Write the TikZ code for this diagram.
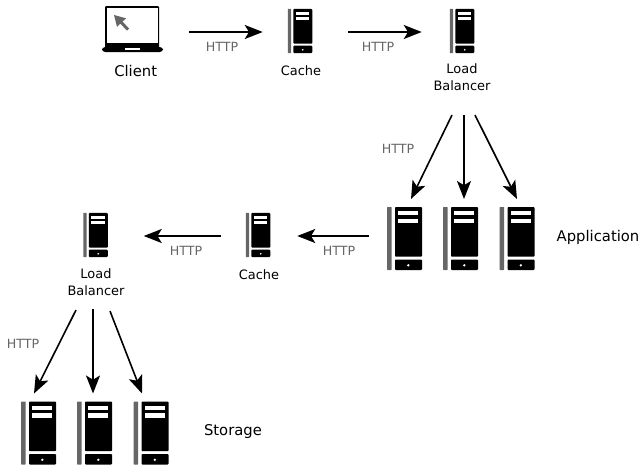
\documentclass[tikz,border=0pt]{standalone}
\usepackage{fontspec}
\setmainfont{DejaVu Sans}
\usetikzlibrary{arrows.meta}
\definecolor{icongray}{HTML}{666666}
\tikzset{
  server/.style={inner sep=0pt,outer sep=0pt,minimum width=#1*26.25pt,minimum height=#1*47.25pt},
  laptop/.style={inner sep=0pt,outer sep=0pt,minimum width=45.75pt,minimum height=34.5pt},
  pics/srvicon/.style={code={\begin{scope}[shift={(-17.5,-31.5)}]
      \fill[icongray,rounded corners=.4pt] (0,0) rectangle (4.7,63);
      \fill[black,rounded corners=.7pt] (8,0) rectangle (35,49.7);
      \fill[black,rounded corners=.7pt] (8,52.5) rectangle (35,63);
      \fill[white] (11.4,4) rectangle (31,8.4);
      \fill[white] (11.4,11.8) rectangle (31,16.3);
      \fill[white] (21.3,58.3) circle (1.3);
    \end{scope}}},
  pics/lapicon/.style={code={\begin{scope}[shift={(-30.5,-23)}]
      \fill[black,rounded corners=.8pt] (3,0) rectangle (57,42);
      \fill[white] (5.4,2.4) rectangle (55.6,37.2);
      \fill[black,rounded corners=2.4pt] (0,41) rectangle (61,46);
      \fill[white] (23,42.2) rectangle (38,44);
      \fill[icongray] (12,9) -- (24,12.3) -- (20.6,15.6) -- (27,22.5) -- (25,24.6) -- (18.2,17.6) -- (15,21) -- cycle;
    \end{scope}}},
  arr/.style={line width=1.2pt,black,-{Stealth[length=13.5pt,width=10.5pt,inset=3.2pt]}},
  big/.style={font=\fontsize{11.1}{13}\selectfont,inner sep=0pt,text=black},
  small/.style={font=\fontsize{9.7}{12.9}\selectfont,inner sep=0pt,align=center,text=black},
  proto/.style={font=\fontsize{9.5}{12}\selectfont,inner sep=0pt,text=icongray},
}
\begin{document}
\begin{tikzpicture}[x=.75pt,y=-.75pt]
\path[use as bounding box] (0,0) rectangle (643,465);
% icons
\node[laptop] (client) at (132.5,29) {};
\node[server=.7] (cacheA) at (300,31) {};
\node[server=.7] (lbA) at (462,31) {};
\node[server=1] (appA) at (404.5,238.5) {};
\node[server=1] (appB) at (460.5,238.5) {};
\node[server=1] (appC) at (517,238.5) {};
\node[server=.7] (cacheB) at (258,235) {};
\node[server=.7] (lbB) at (95.5,235) {};
\node[server=1] (stoA) at (38.5,433) {};
\node[server=1] (stoB) at (94.5,433) {};
\node[server=1] (stoC) at (151,433) {};
\pic at (client) {lapicon};
\foreach \n in {cacheA,lbA,cacheB,lbB} {\pic[scale=.7] at (\n) {srvicon};}
\foreach \n in {appA,appB,appC,stoA,stoB,stoC} {\pic at (\n) {srvicon};}
% labels
\node[big] (clientlab) at (135.7,71) {Client};
\node[small] (cacheAlab) at (301,71) {Cache};
\node[small] (lbAlab) at (462,77) {Load\\Balancer};
\node[big] (applab) at (598,237) {Application};
\node[small] (cacheBlab) at (259,275) {Cache};
\node[small] (lbBlab) at (96,282) {Load\\Balancer};
\node[big] (stolab) at (233,432) {Storage};
\node[proto] (h1) at (222,47) {HTTP};
\node[proto] (h2) at (378,47) {HTTP};
\node[proto] (h3) at (398,149) {HTTP};
\node[proto] (h4) at (339,251) {HTTP};
\node[proto] (h5) at (186,251) {HTTP};
\node[proto] (h6) at (23,344) {HTTP};
% connectors
\draw[arr] ([shift={(26,3)}]client.east) -- ([shift={(-25,1)}]cacheA.west);
\draw[arr] ([shift={(36,1)}]cacheA.east) -- ([shift={(-28,1)}]lbA.west);
\draw[arr] ([shift={(-10,62)}]lbA.south) -- ([shift={(6.5,-8)}]appA.north);
\draw[arr] ([shift={(2,62)}]lbA.south) -- ([shift={(3.5,-8)}]appB.north);
\draw[arr] ([shift={(13,62)}]lbA.south) -- ([shift={(0,-8)}]appC.north);
\draw[arr] ([shift={(-18,-2.5)}]appA.west) -- ([shift={(27,1)}]cacheB.east);
\draw[arr] ([shift={(-25,1)}]cacheB.west) -- ([shift={(36,1)}]lbB.east);
\draw[arr] ([shift={(-19.5,53)}]lbB.south) -- ([shift={(-4.5,-8)}]stoA.north);
\draw[arr] ([shift={(-2.5,52)}]lbB.south) -- ([shift={(-1.5,-8)}]stoB.north);
\draw[arr] ([shift={(14.5,54)}]lbB.south) -- ([shift={(-9,-8)}]stoC.north);
\end{tikzpicture}
\end{document}
